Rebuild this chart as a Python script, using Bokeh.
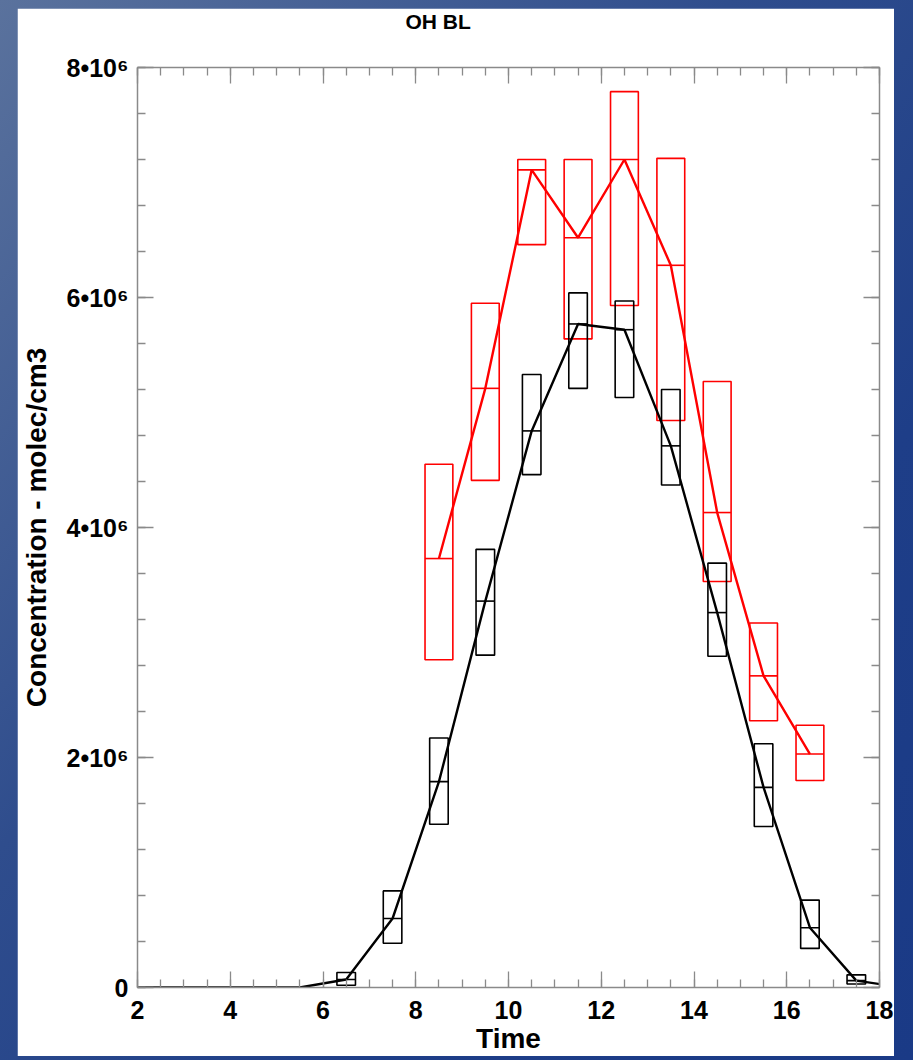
import numpy as np
from bokeh.plotting import figure
from bokeh.layouts import column
from bokeh.models import (LinearAxis, SingleIntervalTicker, CustomJSTickFormatter, Title)
from bokeh.embed import file_html
from bokeh.resources import INLINE

# ---- data (values in molec/cm3, in units of 1e6) ----
SCALE = 1e6
title_text = "OH BL"
x_label = "Time"
y_label = "Concentration - molec/cm3"

# black series (boxes: low / median / high)
black_hours = [6.5, 7.5, 8.5, 9.5, 10.5, 11.5, 12.5, 13.5, 14.5, 15.5, 16.5, 17.5]
black_med = [0.07, 0.60, 1.79, 3.36, 4.84, 5.77, 5.72, 4.71, 3.26, 1.74, 0.52, 0.06]
black_lo = [0.02, 0.385, 1.42, 2.89, 4.46, 5.21, 5.13, 4.37, 2.88, 1.40, 0.34, 0.03]
black_hi = [0.13, 0.84, 2.17, 3.81, 5.33, 6.04, 5.97, 5.20, 3.69, 2.12, 0.76, 0.11]

# black connecting line (full day profile, zero at night)
black_line_hours = [1.5, 2.5, 3.5, 4.5, 5.5, 6.5, 7.5, 8.5, 9.5, 10.5, 11.5, 12.5,
                    13.5, 14.5, 15.5, 16.5, 17.5, 18.5]
black_line_vals = [0.0, 0.0, 0.0, 0.0, 0.0, 0.07, 0.60, 1.79, 3.36, 4.84, 5.77, 5.72,
                   4.71, 3.26, 1.74, 0.52, 0.06, 0.0]

# red series
red_hours = [8.5, 9.5, 10.5, 11.5, 12.5, 13.5, 14.5, 15.5, 16.5]
red_med = [3.73, 5.21, 7.11, 6.52, 7.20, 6.28, 4.13, 2.71, 2.03]
red_lo = [2.85, 4.41, 6.46, 5.64, 5.93, 4.93, 3.53, 2.32, 1.80]
red_hi = [4.55, 5.95, 7.20, 7.20, 7.79, 7.21, 5.27, 3.17, 2.28]

BLACK_W = 0.40
RED_W = 0.60

FONT = "Liberation Sans"
AXIS_COLOR = "#8a8a8a"

p = figure(width=877, height=1048, x_range=(2, 18), y_range=(0, 8e6),
           output_backend="svg", toolbar_location=None,
           min_border_left=119, min_border_right=15, min_border_top=59, min_border_bottom=69,
           background_fill_color="white", border_fill_color="white",
           outline_line_color=None)
p.margin = (8, 19, 4, 17)
p.grid.visible = False

p.title.text = title_text
p.title.text_font = FONT
p.title.text_font_style = "bold"
p.title.text_font_size = "21px"
p.title.text_color = "black"
p.title.align = "left"
p.title.offset = 268
p.title.vertical_align = "top"
p.title.standoff = -16

xt = SingleIntervalTicker(interval=2, num_minor_ticks=4)
yt = SingleIntervalTicker(interval=2e6, num_minor_ticks=5)

yfmt = CustomJSTickFormatter(code="""
    if (Math.abs(tick) < 1) { return "0"; }
    return (tick / 1e6).toFixed(0) + "\u2022" + "10\u2076";
""")


def style_axis(ax, labels=True):
    ax.axis_line_color = AXIS_COLOR
    ax.axis_line_width = 1.5
    ax.major_tick_line_color = AXIS_COLOR
    ax.minor_tick_line_color = AXIS_COLOR
    ax.major_tick_line_width = 1.3
    ax.minor_tick_line_width = 1.3
    ax.major_tick_in = 16
    ax.major_tick_out = 0
    ax.minor_tick_in = 8
    ax.minor_tick_out = 0
    if labels:
        ax.major_label_text_font = FONT
        ax.major_label_text_font_style = "bold"
        ax.major_label_text_font_size = "25px"
        ax.major_label_text_color = "black"
        ax.axis_label_text_font = FONT
        ax.axis_label_text_font_style = "bold"
        ax.axis_label_text_font_size = "28px"
        ax.axis_label_text_color = "black"
    else:
        ax.major_label_text_font_size = "0px"
        ax.formatter = CustomJSTickFormatter(code="return '';")


xa = p.xaxis[0]
xa.ticker = xt
xa.axis_label = x_label
style_axis(xa)
xa.major_label_standoff = 13
xa.axis_label_standoff = 1

ya = p.yaxis[0]
ya.ticker = yt
ya.formatter = yfmt
ya.axis_label = y_label
style_axis(ya)
ya.major_label_standoff = 9
ya.axis_label_standoff = 12

top_ax = LinearAxis(ticker=xt)
style_axis(top_ax, labels=False)
top_ax.major_label_standoff = 0
p.add_layout(top_ax, "above")
# empty spacer between the top axis and the title
p.add_layout(Title(text=" ", text_font_size="20px", standoff=17), "above")
right_ax = LinearAxis(ticker=yt)
style_axis(right_ax, labels=False)
p.add_layout(right_ax, "right")

bx = np.array(black_hours)
rx = np.array(red_hours)

# red boxes
p.quad(left=rx - RED_W / 2, right=rx + RED_W / 2,
       bottom=np.array(red_lo) * SCALE, top=np.array(red_hi) * SCALE,
       fill_color=None, line_color="#ff0000", line_width=1.6)
p.segment(x0=rx - RED_W / 2, x1=rx + RED_W / 2,
          y0=np.array(red_med) * SCALE, y1=np.array(red_med) * SCALE,
          line_color="#ff0000", line_width=1.6)
p.line(rx, np.array(red_med) * SCALE, line_color="#ff0000", line_width=2.4)

# black boxes
p.quad(left=bx - BLACK_W / 2, right=bx + BLACK_W / 2,
       bottom=np.array(black_lo) * SCALE, top=np.array(black_hi) * SCALE,
       fill_color=None, line_color="black", line_width=1.6)
p.segment(x0=bx - BLACK_W / 2, x1=bx + BLACK_W / 2,
          y0=np.array(black_med) * SCALE, y1=np.array(black_med) * SCALE,
          line_color="black", line_width=1.6)
p.line(black_line_hours, np.array(black_line_vals) * SCALE, line_color="black", line_width=2.4)

layout = column(p, width=913, height=1060,
                styles={"background": "linear-gradient(to bottom right, #5a729d 0%, #2f4d8d 40%, #1e3e88 70%, #1a3a86 100%)"})

open("out.html", "w").write(file_html(layout, INLINE))
